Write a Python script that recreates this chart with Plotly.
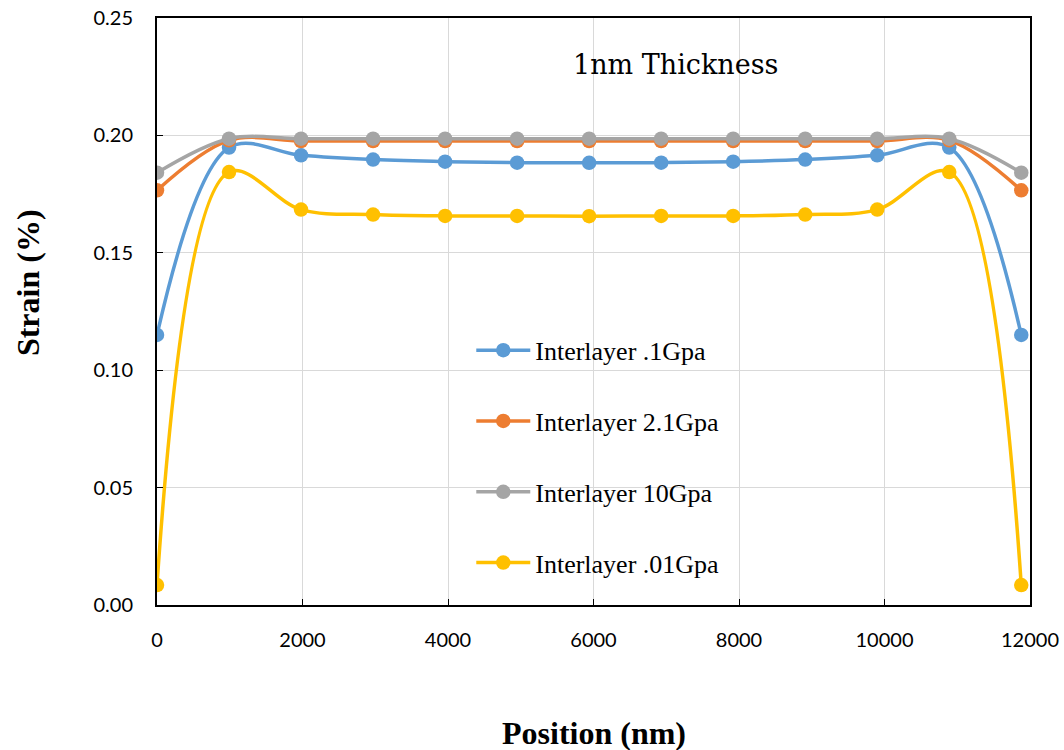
import plotly.graph_objects as go

positions = [0, 990, 1980, 2970, 3960, 4950, 5940, 6930, 7920, 8910, 9900, 10890, 11880]
strain_01 = [0.115, 0.1948, 0.1915, 0.1897, 0.1888, 0.1884, 0.1883, 0.1884, 0.1888, 0.1897, 0.1915, 0.1948, 0.115]
strain_21 = [0.1766, 0.1979, 0.1976, 0.1976, 0.1976, 0.1976, 0.1976, 0.1976, 0.1976, 0.1976, 0.1976, 0.1979, 0.1766]
strain_10 = [0.1841, 0.1986, 0.1986, 0.1986, 0.1986, 0.1986, 0.1986, 0.1986, 0.1986, 0.1986, 0.1986, 0.1986, 0.1841]
strain_001 = [0.0085, 0.1844, 0.1684, 0.1663, 0.1657, 0.1657, 0.1656, 0.1657, 0.1657, 0.1663, 0.1684, 0.1844, 0.0085]

x_ticks = [0, 2000, 4000, 6000, 8000, 10000, 12000]
y_ticks = [0, 0.05, 0.10, 0.15, 0.20, 0.25]

series = [
    ("Interlayer .1Gpa", strain_01, "#5B9BD5"),
    ("Interlayer 2.1Gpa", strain_21, "#ED7D31"),
    ("Interlayer 10Gpa", strain_10, "#A5A5A5"),
    ("Interlayer .01Gpa", strain_001, "#FFC000"),
]

fig = go.Figure()
for i, (name, vals, color) in enumerate(series):
    fig.add_trace(go.Scatter(
        x=positions, y=vals, name=name, mode="lines+markers",
        line=dict(color=color, width=3.5, shape="spline", smoothing=1.0),
        marker=dict(color=color, size=14.5),
        legendgroup=f"g{i}",
    ))

tick_font = dict(family="Lato", size=20, color="black")
title_font = dict(family="Liberation Serif", size=32, color="black")

fig.update_layout(
    width=1064, height=750,
    margin=dict(l=157, r=34, t=18, b=145, autoexpand=False),
    plot_bgcolor="white", paper_bgcolor="white",
    showlegend=True,
    legend=dict(
        x=0.36, y=0.474, xanchor="left", yanchor="top",
        font=dict(family="Liberation Serif", size=26, color="black"),
        bgcolor="rgba(0,0,0,0)", tracegroupgap=34, itemwidth=54,
        traceorder="grouped",
    ),
    xaxis=dict(
        range=[0, 12000], tickvals=x_ticks, tickformat="d",
        showgrid=True, gridcolor="#d9d9d9", gridwidth=1,
        showline=True, linecolor="black", linewidth=2, mirror=True,
        ticks="inside", ticklen=6, tickcolor="black",
        tickfont=tick_font, ticklabelstandoff=16, automargin=False,
        zeroline=False,
    ),
    yaxis=dict(
        range=[0, 0.25], tickvals=y_ticks, tickformat=".2f",
        showgrid=True, gridcolor="#d9d9d9", gridwidth=1,
        showline=True, linecolor="black", linewidth=2, mirror=True,
        ticks="inside", ticklen=6, tickcolor="black",
        tickfont=tick_font, ticklabelstandoff=18, automargin=False,
        zeroline=False,
    ),
    annotations=[
        dict(text="1nm Thickness", x=0.5934, y=0.9216, xref="paper", yref="paper",
             xanchor="center", yanchor="middle", showarrow=False,
             font=dict(family="DejaVu Serif", size=27, color="black")),
        dict(text="<b>Strain (%)</b>", x=-0.1478, y=0.55, xref="paper", yref="paper",
             xanchor="center", yanchor="middle", textangle=-90, showarrow=False,
             font=title_font),
        dict(text="<b>Position (nm)</b>", x=0.5, y=-0.218, xref="paper", yref="paper",
             xanchor="center", yanchor="middle", showarrow=False,
             font=title_font),
    ],
)

fig.write_html("out.html", post_script="document.body.style.margin='0';",
               config={"displayModeBar": False})
